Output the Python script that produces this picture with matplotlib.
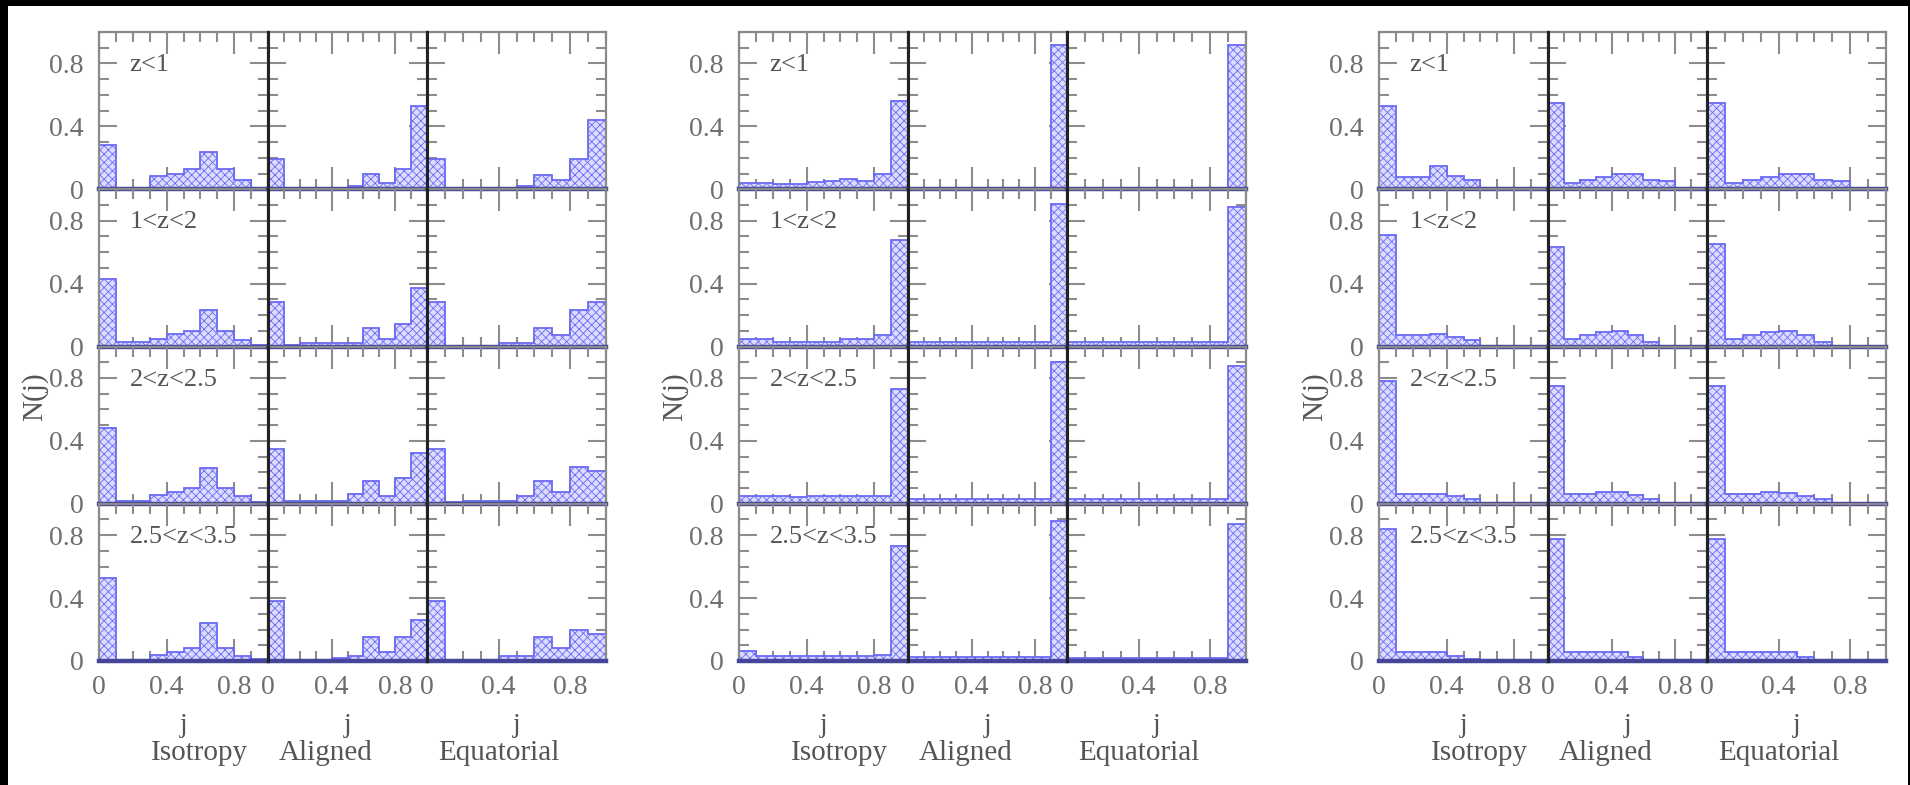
import numpy as np
import matplotlib
matplotlib.use('Agg')
import matplotlib.pyplot as plt
from matplotlib.patches import Rectangle
from matplotlib.ticker import MultipleLocator

## data (left, middle, right), rows = redshift bins
z_labels = ['z<1', '1<z<2', '2<z<2.5', '2.5<z<3.5']
dist_names = ['Isotropy', 'Aligned', 'Equatorial']
bin_edges = [0.0, 0.1, 0.2, 0.3, 0.4, 0.5, 0.6, 0.7, 0.8, 0.9, 1.0]

# left block
iso_left = [[0.28, 0.01, 0.01, 0.085, 0.10, 0.13, 0.24, 0.13, 0.06, 0.01],
            [0.43, 0.03, 0.03, 0.05, 0.08, 0.10, 0.23, 0.10, 0.04, 0.01],
            [0.48, 0.02, 0.02, 0.055, 0.075, 0.10, 0.23, 0.10, 0.05, 0.01],
            [0.53, 0.005, 0.005, 0.035, 0.06, 0.08, 0.24, 0.08, 0.03, 0.01]]
ali_left = [[0.19, 0.0, 0.0, 0.0, 0.0, 0.02, 0.10, 0.04, 0.13, 0.53],
            [0.28, 0.01, 0.02, 0.02, 0.02, 0.02, 0.12, 0.05, 0.145, 0.375],
            [0.35, 0.02, 0.02, 0.02, 0.02, 0.06, 0.145, 0.05, 0.165, 0.325],
            [0.38, 0.0, 0.0, 0.0, 0.02, 0.03, 0.15, 0.06, 0.15, 0.26]]
equ_left = [[0.19, 0.0, 0.0, 0.0, 0.0, 0.02, 0.09, 0.06, 0.19, 0.44],
            [0.28, 0.0, 0.0, 0.0, 0.02, 0.02, 0.12, 0.07, 0.23, 0.28],
            [0.35, 0.01, 0.02, 0.02, 0.02, 0.05, 0.145, 0.075, 0.235, 0.21],
            [0.38, 0.0, 0.0, 0.0, 0.03, 0.03, 0.15, 0.08, 0.20, 0.17]]

# middle block
iso_mid = [[0.04, 0.04, 0.035, 0.035, 0.045, 0.05, 0.065, 0.055, 0.10, 0.56],
           [0.05, 0.05, 0.03, 0.03, 0.03, 0.03, 0.05, 0.05, 0.075, 0.68],
           [0.05, 0.05, 0.05, 0.04, 0.05, 0.05, 0.05, 0.05, 0.05, 0.73],
           [0.065, 0.03, 0.03, 0.03, 0.03, 0.03, 0.03, 0.03, 0.035, 0.73]]
ali_mid = [[0.005, 0.005, 0.005, 0.005, 0.005, 0.005, 0.005, 0.005, 0.005, 0.915],
           [0.03, 0.03, 0.03, 0.03, 0.03, 0.03, 0.03, 0.03, 0.03, 0.905],
           [0.03, 0.03, 0.03, 0.03, 0.03, 0.03, 0.03, 0.03, 0.03, 0.90],
           [0.025, 0.025, 0.025, 0.025, 0.025, 0.025, 0.025, 0.025, 0.025, 0.89]]
equ_mid = [[0.005, 0.005, 0.005, 0.005, 0.005, 0.005, 0.005, 0.005, 0.005, 0.915],
           [0.03, 0.03, 0.03, 0.03, 0.03, 0.03, 0.03, 0.03, 0.03, 0.89],
           [0.03, 0.03, 0.03, 0.03, 0.03, 0.03, 0.03, 0.03, 0.03, 0.875],
           [0.02, 0.02, 0.02, 0.02, 0.02, 0.02, 0.02, 0.02, 0.02, 0.87]]

# right block
iso_right = [[0.53, 0.08, 0.08, 0.145, 0.085, 0.06, 0.0, 0.0, 0.0, 0.0],
             [0.71, 0.075, 0.075, 0.08, 0.06, 0.04, 0.0, 0.0, 0.0, 0.0],
             [0.78, 0.065, 0.065, 0.065, 0.05, 0.03, 0.0, 0.0, 0.0, 0.0],
             [0.84, 0.055, 0.055, 0.055, 0.03, 0.01, 0.0, 0.0, 0.0, 0.0]]
ali_right = [[0.55, 0.04, 0.06, 0.08, 0.10, 0.10, 0.06, 0.05, 0.01, 0.0],
             [0.63, 0.05, 0.075, 0.09, 0.10, 0.075, 0.03, 0.0, 0.0, 0.0],
             [0.75, 0.065, 0.065, 0.075, 0.075, 0.055, 0.03, 0.0, 0.0, 0.0],
             [0.775, 0.055, 0.055, 0.055, 0.055, 0.025, 0.0, 0.0, 0.0, 0.0]]
equ_right = [[0.55, 0.04, 0.06, 0.08, 0.10, 0.10, 0.06, 0.05, 0.0, 0.0],
             [0.655, 0.05, 0.075, 0.095, 0.10, 0.075, 0.03, 0.0, 0.0, 0.0],
             [0.75, 0.065, 0.065, 0.075, 0.07, 0.05, 0.03, 0.0, 0.0, 0.0],
             [0.775, 0.055, 0.055, 0.055, 0.055, 0.025, 0.0, 0.0, 0.0, 0.0]]

blocks = [[iso_left, ali_left, equ_left],
          [iso_mid, ali_mid, equ_mid],
          [iso_right, ali_right, equ_right]]

########################## drawing

W, H = 1910, 785
plt.rcParams['font.family'] = ['Liberation Serif', 'DejaVu Serif']
plt.rcParams['hatch.linewidth'] = 0.6

fig = plt.figure(figsize=(W / 100, H / 100), dpi=100, facecolor='white')
# black scan border (top, left, right strips)
for (bx, by, bw, bh) in [(0, H - 6, W, 6), (0, 0, 8, H), (W - 2, 0, 2, H)]:
    fig.patches.append(Rectangle((bx / W, by / H), bw / W, bh / H,
                                 transform=fig.transFigure, facecolor='black',
                                 edgecolor='none', zorder=10))

block_left = [99, 739, 1379]
col_w = [169, 159, 179]
row_top, row_h = 32, 157.25
tick_col = '#8c8c8c'
lab_col = '#6e6e6e'
txt_col = '#555555'

def px(x0, y0, w, h):
    return [x0 / W, 1 - (y0 + h) / H, w / W, h / H]

fmt = plt.FuncFormatter(lambda v, p: '0' if v == 0 else '%g' % v)

for b, block in enumerate(blocks):
    cx = block_left[b]
    for c in range(3):
        for r in range(4):
            ax = fig.add_axes(px(cx, row_top + r * row_h, col_w[c], row_h))
            ax.set_facecolor('none')
            ax.stairs(block[c][r], bin_edges, fill=True, facecolor='#dcdcff',
                      edgecolor='#6a6af4', hatch='xxxx', lw=1.3, zorder=2)
            ax.axhline(0, color='#45459a', lw=3.2, clip_on=False, zorder=4)
            ax.set_xlim(0, 1)
            ax.set_ylim(0, 1)
            ax.set_xticks([0, 0.4, 0.8])
            ax.set_yticks([0, 0.4, 0.8])
            ax.xaxis.set_minor_locator(MultipleLocator(0.1))
            ax.yaxis.set_minor_locator(MultipleLocator(0.1))
            ax.xaxis.set_major_formatter(fmt)
            ax.yaxis.set_major_formatter(fmt)
            ax.tick_params(which='both', direction='in', top=True, right=True,
                           color=tick_col, width=1.5, labelcolor=lab_col,
                           labelsize=20)
            ax.tick_params(which='major', length=13)
            ax.tick_params(which='minor', length=7)
            ax.tick_params(axis='x', which='major', length=16)
            ax.tick_params(axis='x', pad=10)
            ax.tick_params(axis='y', pad=11)
            if r < 3:
                ax.tick_params(axis='x', labelbottom=False)
            if c > 0:
                ax.tick_params(axis='y', labelleft=False)
            for s in ax.spines.values():
                s.set_color('#8a8a8a')
                s.set_linewidth(1.6)
            if c > 0:
                ax.spines['left'].set_color('#222222')
                ax.spines['left'].set_linewidth(2.2)
                ax.spines['left'].set_zorder(5)
            if c == 0:
                ax.text(0.18, 0.79, z_labels[r], fontsize=19, color=txt_col,
                        ha='left', va='center')

        # axis titles under this column
        mid = cx + col_w[c] / 2
        offsets = [16, -22, -18]
        fig.text(mid / W, 1 - 725 / H, 'j', fontsize=20, color=txt_col,
                 ha='center', va='center')
        fig.text((mid + offsets[c]) / W, 1 - 753 / H, dist_names[c],
                 fontsize=21, color=txt_col, ha='center', va='center')
        cx += col_w[c]
    fig.text((block_left[b] - 64) / W, 1 - 397 / H, 'N(j)', fontsize=21,
             color=txt_col, rotation=90, ha='center', va='center')

fig.savefig('out.png', dpi=100, facecolor=fig.get_facecolor())
